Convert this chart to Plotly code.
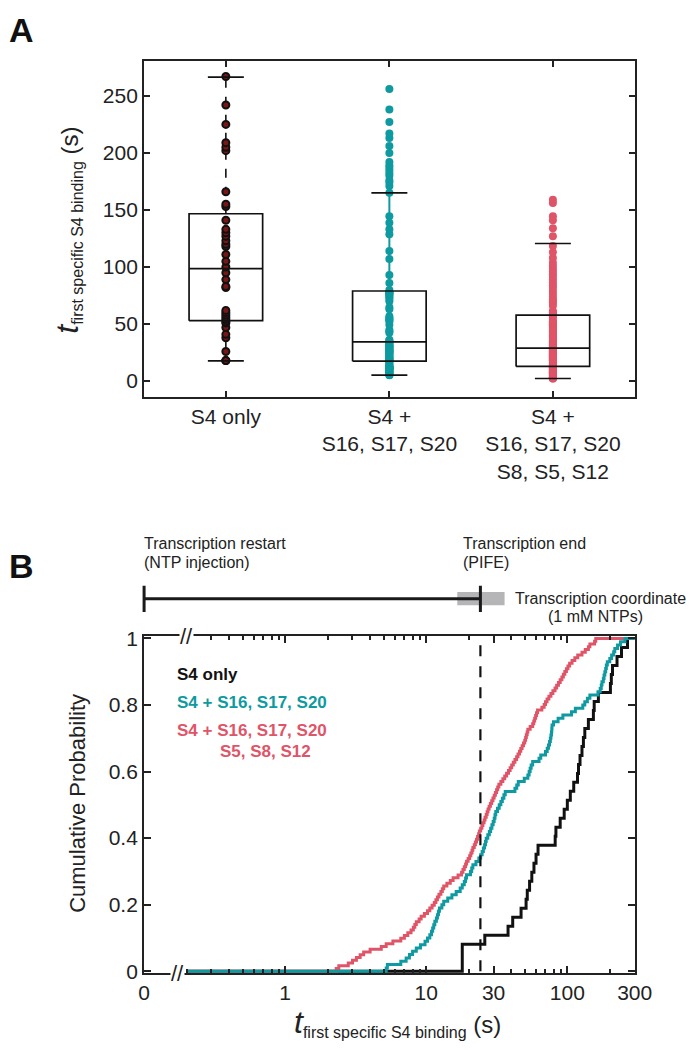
import numpy as np
import plotly.graph_objects as go

# ---------------- data ----------------
GROUP_LABELS = ["S4 only", "S4 +<br>S16, S17, S20", "S4 +<br>S16, S17, S20<br>S8, S5, S12"]
LEGEND_LINE1 = ["S4 only", "S4 + S16, S17, S20", "S4 + S16, S17, S20"]
LEGEND_LINE2 = ["", "", "S5, S8, S12"]

# first specific S4 binding times (s)
T_S4_ONLY = [18, 18, 18, 26, 38, 41, 47, 51, 52, 54, 56, 58, 60, 62, 82, 83, 89, 95, 100,
             105, 111, 118, 120, 123, 127, 130, 133, 141, 153, 155, 166, 202, 205, 209,
             225, 242, 267]
T_S4_PLUS3 = [5.2, 5.3, 6.6, 7.2, 7.6, 8.0, 8.5, 9.1, 9.8, 10.2,
              10.6, 10.9, 11.1, 11.3, 11.5, 11.8, 12.0, 12.2, 12.4, 12.9,
              13.3, 14.2, 15.2, 16.3, 17.4, 18.0, 18.6, 19.0, 19.3, 20.6,
              21.0, 21.4, 22.5, 23.6, 24.3, 24.9, 25.4, 25.9, 26.3, 26.6,
              27.3, 28.0, 28.6, 29.2, 29.8, 30.3, 30.7, 31.1, 32.0, 32.9,
              33.8, 34.6, 35.5, 36.3, 42.5, 43.8, 44.9, 49.5, 52.5, 53.6,
              54.5, 55.4, 56.8, 63.0, 64.8, 70.0, 72.0, 73.5, 74.8, 75.8,
              76.5, 77.2, 77.6, 77.9, 79.8, 86.0, 93.0, 107.0, 114.0, 128.7,
              133.0, 138.7, 144.5, 165.0, 171.0, 174.0, 176.0, 180.0, 182.0, 184.5,
              187.0, 189.0, 192.0, 200.0, 206.0, 213.0, 217.0, 227.0, 238.0, 256.0]
T_S4_PLUS6 = [2.3, 2.4, 2.8, 3.0, 3.2, 3.4, 3.6, 4.0, 4.8, 5.2,
              5.8, 6.6, 7.0, 7.4, 7.8, 8.1, 8.3, 8.5, 8.9, 9.2,
              9.7, 10.2, 10.6, 11.0, 11.4, 11.7, 12.0, 12.3, 12.7, 13.0,
              13.3, 14.0, 14.8, 15.5, 16.8, 17.8, 18.2, 18.6, 19.0, 19.3,
              19.8, 20.3, 20.7, 21.1, 21.4, 21.9, 22.3, 22.7, 23.1, 23.5,
              23.8, 24.3, 24.8, 25.2, 25.7, 26.1, 26.6, 27.0, 27.4, 27.9,
              28.5, 29.1, 29.7, 30.3, 30.9, 31.5, 32.1, 32.7, 33.8, 34.9,
              36.0, 37.1, 38.3, 39.3, 40.3, 41.4, 42.5, 43.7, 44.7, 45.8,
              46.8, 47.8, 48.9, 49.9, 50.6, 51.2, 51.9, 52.5, 54.5, 56.8,
              57.8, 58.7, 59.6, 60.5, 61.5, 66.0, 68.5, 70.0, 71.8, 74.0,
              76.5, 79.0, 81.8, 84.0, 86.5, 89.0, 91.5, 93.7, 96.0, 98.5,
              101.0, 103.8, 108.0, 113.0, 118.5, 127.0, 134.0, 141.0, 144.5, 156.0,
              159.0]

# box statistics as drawn in panel A
BOX_Q1 = [53.0, 17.5, 12.9]
BOX_MEDIAN = [98.6, 34.4, 29.0]
BOX_Q3 = [146.7, 79.0, 57.9]
BOX_LOWER = [17.8, 5.2, 2.3]
BOX_UPPER = [266.5, 165.0, 120.6]

Y_TICKS_A = [0, 50, 100, 150, 200, 250]
Y_TICKS_B = [0, 0.2, 0.4, 0.6, 0.8, 1]
Y_TICKTEXT_B = ["0", "0.2", "0.4", "0.6", "0.8", "1"]
X_TICKS_B = [0.1, 1, 10, 30, 100, 300]
X_TICKTEXT_B = ["0", "1", "10", "30", "100", "300"]

CURVE_START = 0.2          # where the cumulative curves begin (after the axis break)
AXIS_START = 0.1           # "0" on the broken log axis
AXIS_END = 300
TRANSCRIPTION_END = 24.2   # PIFE-defined end of transcription (s)
TRANSCRIPTION_SPREAD = [16.6, 35.9]

# ---------------- styling ----------------
FONT = "Liberation Sans, Arial, Helvetica, sans-serif"
INK = "#222222"
COLORS = ["#111111", "#0e9aa0", "#e05468"]
W, H = 699, 1050


def px(x):
    return x / W


def py(y):
    return 1 - y / H


X_DOM = [px(143), px(651)]
YA_DOM = [py(394), py(52)]
YB_DOM = [py(981), py(638)]
YT_DOM = [py(613), py(586)]

groups = [T_S4_ONLY, T_S4_PLUS3, T_S4_PLUS6]
fig = go.Figure()

# ---------------- panel A ----------------
box_hw = 0.225
cap_hw = 0.11
whisker_dash = ["dash", "solid", "solid"]
whisker_color = [COLORS[0], COLORS[1], COLORS[2]]
for i in range(3):
    fig.add_trace(go.Scatter(
        x=[i, i, None, i, i],
        y=[BOX_Q3[i], BOX_UPPER[i], None, BOX_Q1[i], BOX_LOWER[i]],
        mode="lines", line=dict(color=whisker_color[i], width=2 if i else 1.6, dash=whisker_dash[i]),
        xaxis="x", yaxis="y", hoverinfo="skip"))

for i, vals in enumerate(groups):
    if i == 0:
        marker = dict(size=7, color="#7a1515", line=dict(color="#111111", width=2))
    else:
        marker = dict(size=8, color=COLORS[i], line=dict(width=0))
    fig.add_trace(go.Scatter(x=[i] * len(vals), y=vals, mode="markers", marker=marker,
                             xaxis="x", yaxis="y", cliponaxis=False))

for i in range(3):
    xl, xr = i - box_hw, i + box_hw
    fig.add_trace(go.Scatter(
        x=[xl, xr, xr, xl, xl, None, xl, xr, None, i - cap_hw, i + cap_hw, None, i - cap_hw, i + cap_hw],
        y=[BOX_Q1[i], BOX_Q1[i], BOX_Q3[i], BOX_Q3[i], BOX_Q1[i], None,
           BOX_MEDIAN[i], BOX_MEDIAN[i], None, BOX_UPPER[i], BOX_UPPER[i], None,
           BOX_LOWER[i], BOX_LOWER[i]],
        mode="lines", line=dict(color="#111111", width=1.7),
        xaxis="x", yaxis="y", hoverinfo="skip"))

# ---------------- panel B: cumulative distributions ----------------
for i in [0, 2, 1]:
    s = sorted(groups[i])
    n = len(s)
    xs = [CURVE_START] + s + [AXIS_END]
    ys = [0] + [(k + 1) / n for k in range(n)] + [1]
    fig.add_trace(go.Scatter(x=xs, y=ys, mode="lines", line=dict(color=COLORS[i], width=3, shape="hv"),
                             xaxis="x2", yaxis="y2"))

fig.add_trace(go.Scatter(x=[TRANSCRIPTION_END, TRANSCRIPTION_END], y=[0, 1], mode="lines",
                         line=dict(color="#111111", width=2.2, dash="11px,10px"),
                         xaxis="x2", yaxis="y2"))

# ---------------- transcription coordinate bar ----------------
s0, s1 = TRANSCRIPTION_SPREAD
fig.add_trace(go.Scatter(x=[s0, s1, s1, s0, s0], y=[0.25, 0.25, 0.75, 0.75, 0.25], mode="lines",
                         fill="toself", fillcolor="#b5b5b8", line=dict(width=0),
                         xaxis="x3", yaxis="y3"))
fig.add_trace(go.Scatter(x=[AXIS_START, TRANSCRIPTION_END], y=[0.5, 0.5], mode="lines",
                         line=dict(color="#1a1a1a", width=3), xaxis="x3", yaxis="y3"))
fig.add_trace(go.Scatter(x=[AXIS_START, AXIS_START, None, TRANSCRIPTION_END, TRANSCRIPTION_END],
                         y=[0, 1, None, 0, 1], mode="lines",
                         line=dict(color="#1a1a1a", width=3), xaxis="x3", yaxis="y3"))

# ---------------- axes ----------------
axis_common = dict(showline=True, linewidth=2, linecolor=INK, mirror="ticks", ticks="inside",
                   tickwidth=2, tickcolor=INK, showgrid=False, zeroline=False,
                   tickfont=dict(family=FONT, size=21, color=INK))

log_lo, log_hi = np.log10(AXIS_START), np.log10(AXIS_END)
px_per_dec = (651 - 143) / (log_hi - log_lo)
pad = 10 / px_per_dec
minor_ticks = [round(m * 10.0 ** e, 3) for e in (-1, 0, 1, 2) for m in range(2, 10)
               if m * 10.0 ** e < AXIS_END and round(m * 10.0 ** e, 3) not in X_TICKS_B]

fig.update_layout(
    width=W, height=H, margin=dict(l=0, r=0, t=0, b=0),
    paper_bgcolor="white", plot_bgcolor="white", showlegend=False,
    font=dict(family=FONT, size=21, color=INK),
    xaxis=dict(domain=X_DOM, anchor="y", range=[-0.5, 2.5], tickmode="array", tickvals=[0, 1, 2],
               ticktext=GROUP_LABELS, ticklen=6, **axis_common),
    yaxis=dict(domain=YA_DOM, anchor="x", range=[-13.8, 280.5], tickmode="array", tickvals=Y_TICKS_A,
               ticklen=6, **axis_common),
    xaxis2=dict(domain=X_DOM, anchor="y2", type="log", range=[log_lo, log_hi], tickmode="array",
                tickvals=X_TICKS_B, ticktext=X_TICKTEXT_B, ticklen=7,
                minor=dict(tickmode="array", tickvals=minor_ticks, ticks="inside", ticklen=4,
                           tickwidth=1.5, tickcolor=INK, showgrid=False),
                **axis_common),
    yaxis2=dict(domain=YB_DOM, anchor="x2", range=[-0.006, 1.006], tickmode="array", tickvals=Y_TICKS_B,
                ticktext=Y_TICKTEXT_B, ticklen=7, **axis_common),
    xaxis3=dict(domain=[px(143 - 10), px(651 + 10)], anchor="y3", type="log",
                range=[log_lo - pad, log_hi + pad], visible=False),
    yaxis3=dict(domain=YT_DOM, anchor="x3", range=[0, 1], visible=False),
)

# ---------------- text ----------------
ann = []


def add(text, x, y, size=16, color=INK, xanchor="left", yanchor="middle", angle=0, bg=None):
    d = dict(text=text, x=px(x), y=py(y), xref="paper", yref="paper", showarrow=False,
             xanchor=xanchor, yanchor=yanchor, textangle=angle,
             font=dict(family=FONT, size=size, color=color))
    if bg:
        d.update(bgcolor=bg, borderpad=0)
    ann.append(d)


add("<b>A</b>", 1, 20, size=34, color="#111111")
add("<b>B</b>", 1, 566, size=34, color="#111111")

title_t = ("<span style='font-size:32px'><i>t</i></span>"
           "<sub><span style='font-size:16px'>first specific S4 binding</span></sub>"
           "<span style='font-size:24px'> (s)</span>")
add(title_t, 64, 224, size=24, xanchor="center", angle=-90)
add(title_t, 405, 1031, size=24, xanchor="center")
add("Cumulative Probability", 74, 808, size=22, xanchor="center", angle=-90)

# legend text
add("<b>" + LEGEND_LINE1[0] + "</b>", 175, 677, size=17, color=COLORS[0])
add("<b>" + LEGEND_LINE1[1] + "</b>", 175, 705, size=17, color=COLORS[1])
add("<b>" + LEGEND_LINE1[2] + "</b>", 175, 734, size=17, color=COLORS[2])
add("<b>" + LEGEND_LINE2[2] + "</b>", 220, 755, size=17, color=COLORS[2])

# transcription labels
add("Transcription restart", 141, 543, size=16)
add("(NTP injection)", 141, 563, size=16)
add("Transcription end", 471, 543, size=16)
add("(PIFE)", 471, 563, size=16)
add("Transcription coordinate", 525, 599, size=16)
add("(1 mM NTPs)", 610, 618, size=16, xanchor="center")

# axis break marks
add("//", 187, 638, size=22, xanchor="center", bg="white")
add("//", 178, 981, size=22, xanchor="center", bg="white")

fig.update_layout(annotations=ann)
fig.write_html("out.html", config={"displayModeBar": False},
               post_script="document.body.style.margin='0';document.body.style.overflow='hidden';")
